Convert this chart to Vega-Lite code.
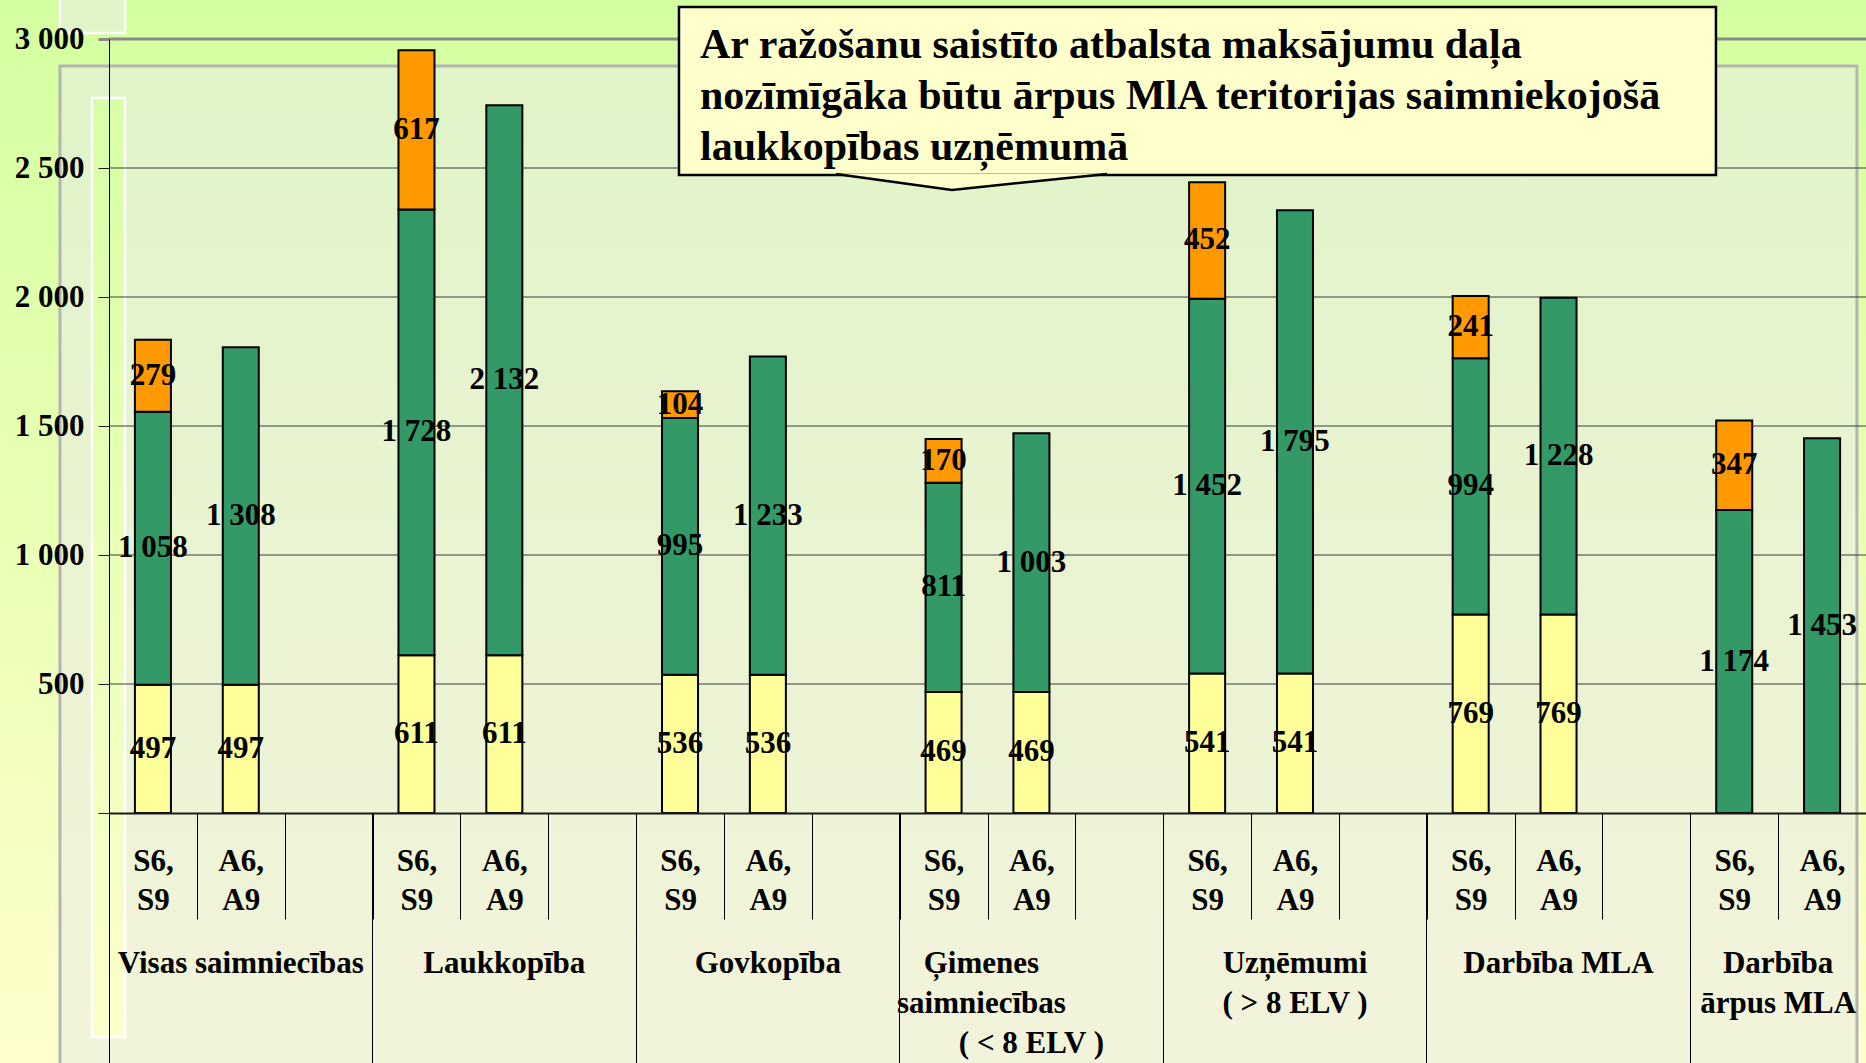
{
  "$schema": "https://vega.github.io/schema/vega-lite/v6.json",
  "width": 1757,
  "height": 774,
  "autosize": {"type": "none"},
  "padding": {"left": 109, "top": 39, "right": 0, "bottom": 250},
  "background": "#ffffcc",
  "config": {
    "view": {"stroke": null},
    "font": "Liberation Serif",
    "locale": {"number": {"decimal": ",", "thousands": " ", "grouping": [3], "currency": ["", ""]}}
  },
  "datasets": {
    "bars": [
      {"group": "Visas saimniecības", "scenario": "S6, S9", "slot": "Visas saimniecības | S6, S9", "part": "1. daļa", "value": 497},
      {"group": "Visas saimniecības", "scenario": "S6, S9", "slot": "Visas saimniecības | S6, S9", "part": "2. daļa", "value": 1058},
      {"group": "Visas saimniecības", "scenario": "S6, S9", "slot": "Visas saimniecības | S6, S9", "part": "3. daļa", "value": 279},
      {"group": "Visas saimniecības", "scenario": "A6, A9", "slot": "Visas saimniecības | A6, A9", "part": "1. daļa", "value": 497},
      {"group": "Visas saimniecības", "scenario": "A6, A9", "slot": "Visas saimniecības | A6, A9", "part": "2. daļa", "value": 1308},
      {"group": "Laukkopība", "scenario": "S6, S9", "slot": "Laukkopība | S6, S9", "part": "1. daļa", "value": 611},
      {"group": "Laukkopība", "scenario": "S6, S9", "slot": "Laukkopība | S6, S9", "part": "2. daļa", "value": 1728},
      {"group": "Laukkopība", "scenario": "S6, S9", "slot": "Laukkopība | S6, S9", "part": "3. daļa", "value": 617},
      {"group": "Laukkopība", "scenario": "A6, A9", "slot": "Laukkopība | A6, A9", "part": "1. daļa", "value": 611},
      {"group": "Laukkopība", "scenario": "A6, A9", "slot": "Laukkopība | A6, A9", "part": "2. daļa", "value": 2132},
      {"group": "Govkopība", "scenario": "S6, S9", "slot": "Govkopība | S6, S9", "part": "1. daļa", "value": 536},
      {"group": "Govkopība", "scenario": "S6, S9", "slot": "Govkopība | S6, S9", "part": "2. daļa", "value": 995},
      {"group": "Govkopība", "scenario": "S6, S9", "slot": "Govkopība | S6, S9", "part": "3. daļa", "value": 104},
      {"group": "Govkopība", "scenario": "A6, A9", "slot": "Govkopība | A6, A9", "part": "1. daļa", "value": 536},
      {"group": "Govkopība", "scenario": "A6, A9", "slot": "Govkopība | A6, A9", "part": "2. daļa", "value": 1233},
      {"group": "Ģimenes saimniecības ( < 8 ELV )", "scenario": "S6, S9", "slot": "Ģimenes saimniecības ( < 8 ELV ) | S6, S9", "part": "1. daļa", "value": 469},
      {"group": "Ģimenes saimniecības ( < 8 ELV )", "scenario": "S6, S9", "slot": "Ģimenes saimniecības ( < 8 ELV ) | S6, S9", "part": "2. daļa", "value": 811},
      {"group": "Ģimenes saimniecības ( < 8 ELV )", "scenario": "S6, S9", "slot": "Ģimenes saimniecības ( < 8 ELV ) | S6, S9", "part": "3. daļa", "value": 170},
      {"group": "Ģimenes saimniecības ( < 8 ELV )", "scenario": "A6, A9", "slot": "Ģimenes saimniecības ( < 8 ELV ) | A6, A9", "part": "1. daļa", "value": 469},
      {"group": "Ģimenes saimniecības ( < 8 ELV )", "scenario": "A6, A9", "slot": "Ģimenes saimniecības ( < 8 ELV ) | A6, A9", "part": "2. daļa", "value": 1003},
      {"group": "Uzņēmumi ( > 8 ELV )", "scenario": "S6, S9", "slot": "Uzņēmumi ( > 8 ELV ) | S6, S9", "part": "1. daļa", "value": 541},
      {"group": "Uzņēmumi ( > 8 ELV )", "scenario": "S6, S9", "slot": "Uzņēmumi ( > 8 ELV ) | S6, S9", "part": "2. daļa", "value": 1452},
      {"group": "Uzņēmumi ( > 8 ELV )", "scenario": "S6, S9", "slot": "Uzņēmumi ( > 8 ELV ) | S6, S9", "part": "3. daļa", "value": 452},
      {"group": "Uzņēmumi ( > 8 ELV )", "scenario": "A6, A9", "slot": "Uzņēmumi ( > 8 ELV ) | A6, A9", "part": "1. daļa", "value": 541},
      {"group": "Uzņēmumi ( > 8 ELV )", "scenario": "A6, A9", "slot": "Uzņēmumi ( > 8 ELV ) | A6, A9", "part": "2. daļa", "value": 1795},
      {"group": "Darbība MLA", "scenario": "S6, S9", "slot": "Darbība MLA | S6, S9", "part": "1. daļa", "value": 769},
      {"group": "Darbība MLA", "scenario": "S6, S9", "slot": "Darbība MLA | S6, S9", "part": "2. daļa", "value": 994},
      {"group": "Darbība MLA", "scenario": "S6, S9", "slot": "Darbība MLA | S6, S9", "part": "3. daļa", "value": 241},
      {"group": "Darbība MLA", "scenario": "A6, A9", "slot": "Darbība MLA | A6, A9", "part": "1. daļa", "value": 769},
      {"group": "Darbība MLA", "scenario": "A6, A9", "slot": "Darbība MLA | A6, A9", "part": "2. daļa", "value": 1228},
      {"group": "Darbība ārpus MLA", "scenario": "S6, S9", "slot": "Darbība ārpus MLA | S6, S9", "part": "2. daļa", "value": 1174},
      {"group": "Darbība ārpus MLA", "scenario": "S6, S9", "slot": "Darbība ārpus MLA | S6, S9", "part": "3. daļa", "value": 347},
      {"group": "Darbība ārpus MLA", "scenario": "A6, A9", "slot": "Darbība ārpus MLA | A6, A9", "part": "2. daļa", "value": 1453}
    ],
    "grid": [
      {"level": 500}, {"level": 1000}, {"level": 1500}, {"level": 2000}, {"level": 2500}, {"level": 3000}
    ]
  },
  "encoding": {
    "x": {
      "type": "nominal",
      "scale": {"type": "band", "paddingInner": 0, "paddingOuter": 0, "domain": [
        "Visas saimniecības | S6, S9", "Visas saimniecības | A6, A9", "Visas saimniecības | ",
        "Laukkopība | S6, S9", "Laukkopība | A6, A9", "Laukkopība | ",
        "Govkopība | S6, S9", "Govkopība | A6, A9", "Govkopība | ",
        "Ģimenes saimniecības ( < 8 ELV ) | S6, S9", "Ģimenes saimniecības ( < 8 ELV ) | A6, A9", "Ģimenes saimniecības ( < 8 ELV ) | ",
        "Uzņēmumi ( > 8 ELV ) | S6, S9", "Uzņēmumi ( > 8 ELV ) | A6, A9", "Uzņēmumi ( > 8 ELV ) | ",
        "Darbība MLA | S6, S9", "Darbība MLA | A6, A9", "Darbība MLA | ",
        "Darbība ārpus MLA | S6, S9", "Darbība ārpus MLA | A6, A9"]}
    }
  },
  "layer": [
    {
      "data": {"values": [{}]},
      "mark": {"type": "rect", "fill": {"gradient": "linear", "x1": 0, "y1": 0, "x2": 0, "y2": 1, "stops": [{"offset": 0, "color": "#d4ffa0"}, {"offset": 1, "color": "#ffffcc"}]}},
      "encoding": {
        "x": {"datum": "Visas saimniecības | S6, S9", "type": "nominal", "bandPosition": -1.25, "axis": null},
        "x2": {"datum": "Darbība ārpus MLA | A6, A9", "bandPosition": 1.1},
        "y": {"datum": 3165, "type": "quantitative", "scale": {"domain": [0, 3000], "nice": false}},
        "y2": {"datum": -975}
      }
    },
    {
      "data": {"values": [{}]},
      "mark": {"type": "rect", "fill": "#e0f4c8", "stroke": "#ffffff", "strokeWidth": 2.5},
      "encoding": {
        "x": {"datum": "Visas saimniecības | S6, S9", "type": "nominal", "bandPosition": -0.558, "axis": null},
        "x2": {"datum": "Visas saimniecības | S6, S9", "bandPosition": 0.182},
        "y": {"datum": 3175, "type": "quantitative", "scale": {"domain": [0, 3000], "nice": false}},
        "y2": {"datum": 3023}
      }
    },
    {
      "data": {"values": [{}]},
      "mark": {"type": "rect", "stroke": "#b4b4b4", "strokeWidth": 3, "fill": {"gradient": "linear", "x1": 0, "y1": 0, "x2": 0, "y2": 1, "stops": [{"offset": 0, "color": "#e0f4c8"}, {"offset": 1, "color": "#f3f3dc"}]}},
      "encoding": {
        "x": {"datum": "Visas saimniecības | S6, S9", "type": "nominal", "bandPosition": -0.558, "axis": null},
        "x2": {"datum": "Darbība ārpus MLA | A6, A9", "bandPosition": 0.897},
        "y": {"datum": 2895, "type": "quantitative", "scale": {"domain": [0, 3000], "nice": false}},
        "y2": {"datum": -1000}
      }
    },
    {
      "data": {"values": [{}]},
      "mark": {"type": "rect", "stroke": "#ffffff", "strokeWidth": 2.5, "fill": {"gradient": "linear", "x1": 0, "y1": 0, "x2": 0, "y2": 1, "stops": [{"offset": 0, "color": "#d8ffa6"}, {"offset": 1, "color": "#fdffcb"}]}},
      "encoding": {
        "x": {"datum": "Visas saimniecības | S6, S9", "type": "nominal", "bandPosition": -0.194, "axis": null},
        "x2": {"datum": "Visas saimniecības | S6, S9", "bandPosition": 0.182},
        "y": {"datum": 2771, "type": "quantitative", "scale": {"domain": [0, 3000], "nice": false}},
        "y2": {"datum": -868}
      }
    },
    {
      "data": {"name": "grid"},
      "mark": {"type": "rule"},
      "encoding": {
        "y": {
          "field": "level", "type": "quantitative",
          "scale": {"domain": [0, 3000], "nice": false},
          "axis": {
            "orient": "left", "title": null, "zindex": 1,
            "values": [0, 500, 1000, 1500, 2000, 2500, 3000],
            "format": ",d",
            "labelExpr": "datum.value == 0 ? '' : datum.label",
            "grid": false,
            "tickSize": 11,
            "tickColor": {"condition": {"test": "datum.value == 3000", "value": "#8a8a8a"}, "value": "#1a1a1a"},
            "tickWidth": {"condition": {"test": "datum.value == 3000", "value": 3}, "value": 1},
            "domain": true, "domainColor": "#000000", "domainWidth": 1,
            "labelFont": "Liberation Serif", "labelFontWeight": "bold", "labelFontSize": 31, "labelColor": "#000000",
            "labelPadding": 14, "labelFlush": false, "labelOverlap": false
          }
        },
        "color": {"condition": {"test": "datum.level == 3000", "value": "#8a8a8a"}, "value": "#3c3c3c"},
        "strokeWidth": {"condition": {"test": "datum.level == 3000", "value": 3}, "value": 1}
      }
    },
    {
      "data": {"name": "bars"},
      "resolve": {"axis": {"x": "independent"}},
      "layer": [
        {
          "mark": {"type": "bar", "width": {"band": 0.41}, "stroke": "#000000", "strokeWidth": 2},
          "encoding": {
            "x": {
              "field": "slot", "type": "nominal",
              "axis": {
                "orient": "bottom", "title": null, "zindex": 1,
                "tickBand": "extent", "tickSize": 106, "tickColor": "#000000", "tickWidth": 1,
                "domain": true, "domainColor": "#1a1a1a", "domainWidth": 2,
                "labelExpr": "isString(datum.value) ? split(split(datum.value, ' | ')[1], ' ') : ''",
                "labelFont": "Liberation Serif", "labelFontWeight": "bold", "labelFontSize": 31, "labelColor": "#000000",
                "labelBaseline": "top", "labelLineHeight": 39, "labelPadding": -73, "labelAngle": 0, "labelOverlap": false, "labelLimit": 0
              }
            },
            "y": {"field": "value", "type": "quantitative", "stack": "zero", "scale": {"domain": [0, 3000], "nice": false}},
            "color": {
              "field": "part", "type": "nominal",
              "scale": {"domain": ["1. daļa", "2. daļa", "3. daļa"], "range": ["#ffff99", "#339966", "#ff9900"]},
              "legend": null
            },
            "order": {"field": "part", "sort": "ascending"}
          }
        },
        {
          "mark": {"type": "text", "font": "Liberation Serif", "fontWeight": "bold", "fontSize": 31, "color": "#000000", "baseline": "middle", "align": "center"},
          "encoding": {
            "x": {
              "field": "slot", "type": "nominal",
              "axis": {
                "orient": "bottom", "title": null, "zindex": 1,
                "values": ["Visas saimniecības | S6, S9", "Laukkopība | S6, S9", "Govkopība | S6, S9", "Ģimenes saimniecības ( < 8 ELV ) | S6, S9", "Uzņēmumi ( > 8 ELV ) | S6, S9", "Darbība MLA | S6, S9", "Darbība ārpus MLA | S6, S9"],
                "bandPosition": 0, "tickSize": 250, "tickColor": "#000000", "tickWidth": 1,
                "labels": false, "domain": false
              }
            },
            "y": {"field": "value", "type": "quantitative", "stack": "zero", "bandPosition": 0.5, "scale": {"domain": [0, 3000], "nice": false}},
            "detail": {"field": "part", "type": "nominal"},
            "order": {"field": "part", "sort": "ascending"},
            "text": {"field": "value", "type": "quantitative", "format": ",d"}
          }
        },
        {
          "mark": {"type": "point", "opacity": 0},
          "encoding": {
            "x": {
              "field": "slot", "type": "nominal",
              "axis": {
                "orient": "bottom", "title": null, "zindex": 1,
                "values": ["Visas saimniecības | A6, A9", "Laukkopība | A6, A9", "Govkopība | A6, A9", "Ģimenes saimniecības ( < 8 ELV ) | A6, A9", "Uzņēmumi ( > 8 ELV ) | A6, A9", "Darbība MLA | A6, A9", "Darbība ārpus MLA | A6, A9"],
                "ticks": false, "domain": false,
                "labelExpr": "indexof(datum.value, 'Ģimenes') == 0 ? ['Ģimenes', 'saimniecības'] : indexof(datum.value, 'Uzņēmumi') == 0 ? ['Uzņēmumi', '( > 8 ELV )'] : indexof(datum.value, 'Darbība ārpus') == 0 ? ['Darbība', 'ārpus MLA'] : split(datum.value, ' | ')[0]",
                "labelOffset": {"condition": [{"test": "indexof(datum.value, 'Darbība ārpus') == 0", "value": -44}, {"test": "indexof(datum.value, 'Ģimenes') == 0", "value": -50}], "value": 0},
                "labelFont": "Liberation Serif", "labelFontWeight": "bold", "labelFontSize": 31, "labelColor": "#000000",
                "labelBaseline": "top", "labelLineHeight": 40, "labelPadding": 135, "labelAngle": 0, "labelOverlap": false, "labelLimit": 0
              }
            }
          }
        },
        {
          "mark": {"type": "point", "opacity": 0},
          "encoding": {
            "x": {
              "field": "slot", "type": "nominal",
              "axis": {
                "orient": "bottom", "title": null, "zindex": 1,
                "values": ["Ģimenes saimniecības ( < 8 ELV ) | A6, A9"],
                "ticks": false, "domain": false,
                "labelExpr": "'( < 8 ELV )'",
                "labelFont": "Liberation Serif", "labelFontWeight": "bold", "labelFontSize": 31, "labelColor": "#000000",
                "labelBaseline": "top", "labelPadding": 215, "labelAngle": 0, "labelOverlap": false, "labelLimit": 0
              }
            }
          }
        }
      ]
    },
    {
      "data": {"values": [{}]},
      "mark": {"type": "rect", "fill": "#ffffcc", "stroke": "#000000", "strokeWidth": 2.5},
      "encoding": {
        "x": {"datum": "Govkopība | S6, S9", "type": "nominal", "bandPosition": 0.488, "axis": null},
        "x2": {"datum": "Darbība ārpus MLA | S6, S9", "bandPosition": 0.292},
        "y": {"datum": 3124, "type": "quantitative", "scale": {"domain": [0, 3000], "nice": false}},
        "y2": {"datum": 2473}
      }
    },
    {
      "data": {"values": [{}]},
      "mark": {"type": "point", "shape": "M-1,0L-0.144,0.118L1,0", "size": 73441, "filled": true, "fill": "#ffffcc", "stroke": "#000000", "strokeWidth": 2.5, "opacity": 1, "fillOpacity": 1},
      "encoding": {
        "x": {"datum": "Ģimenes saimniecības ( < 8 ELV ) | S6, S9", "type": "nominal", "bandPosition": 0.818, "axis": null},
        "y": {"datum": 2477, "type": "quantitative", "scale": {"domain": [0, 3000], "nice": false}}
      }
    },
    {
      "data": {"values": [{}]},
      "mark": {"type": "text", "font": "Liberation Serif", "fontWeight": "bold", "fontSize": 42, "lineHeight": 51, "align": "left", "baseline": "alphabetic", "color": "#000000"},
      "encoding": {
        "x": {"datum": "Govkopība | S6, S9", "type": "nominal", "bandPosition": 0.727, "axis": null},
        "y": {"datum": 2926, "type": "quantitative", "scale": {"domain": [0, 3000], "nice": false}},
        "text": {"value": ["Ar ražošanu saistīto atbalsta maksājumu daļa", "nozīmīgāka būtu ārpus MlA teritorijas saimniekojošā", "laukkopības uzņēmumā"]}
      }
    }
  ]
}
